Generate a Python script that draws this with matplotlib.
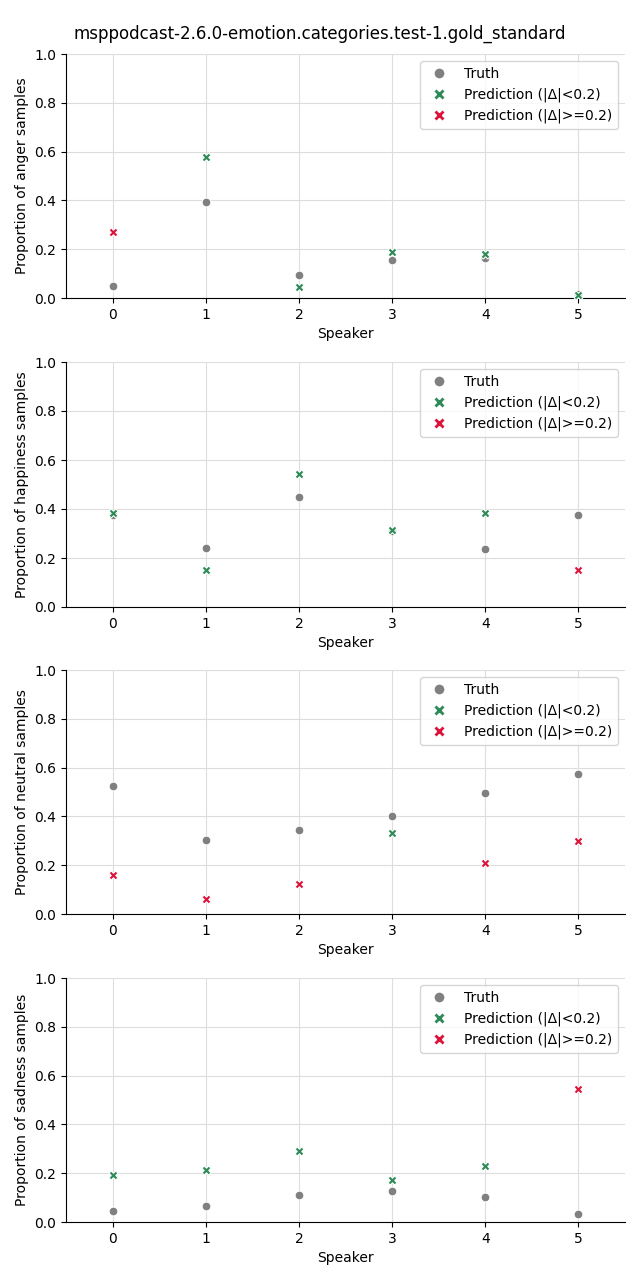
import matplotlib
matplotlib.use("Agg")
import matplotlib.pyplot as plt
import numpy as np
from matplotlib.lines import Line2D

speakers = [0, 1, 2, 3, 4, 5]
emotions = ["anger", "happiness", "neutral", "sadness"]

truth_anger = [0.048, 0.392, 0.093, 0.154, 0.165, 0.018]
pred_anger = [0.269, 0.579, 0.046, 0.187, 0.182, 0.012]
truth_happiness = [0.377, 0.241, 0.449, 0.312, 0.237, 0.376]
pred_happiness = [0.384, 0.152, 0.544, 0.313, 0.385, 0.151]
truth_neutral = [0.526, 0.305, 0.346, 0.403, 0.497, 0.575]
pred_neutral = [0.159, 0.060, 0.121, 0.331, 0.208, 0.301]
truth_sadness = [0.044, 0.064, 0.109, 0.129, 0.101, 0.031]
pred_sadness = [0.193, 0.215, 0.293, 0.173, 0.230, 0.546]

truths = [truth_anger, truth_happiness, truth_neutral, truth_sadness]
preds = [pred_anger, pred_happiness, pred_neutral, pred_sadness]

title = "msppodcast-2.6.0-emotion.categories.test-1.gold_standard"
threshold = 0.2

GRAY = "#808080"
GREEN = "#2e8b57"
RED = "#dc143c"

W, H = 640, 1280
fig = plt.figure(figsize=(W / 100, H / 100), dpi=100)

panel_px = [(54, 298), (362, 607), (670, 914), (978, 1222)]
left_px, right_px = 66, 625

for i, (emo, t, p) in enumerate(zip(emotions, truths, preds)):
    top, bot = panel_px[i]
    ax = fig.add_axes([left_px / W, 1 - bot / H, (right_px - left_px) / W, (bot - top) / H])
    t = np.array(t)
    p = np.array(p)
    x = np.array(speakers)
    ok = np.abs(p - t) < threshold
    ax.scatter(x, t, s=40, marker="o", color=GRAY, edgecolor="white", linewidth=0.75, zorder=3)
    ax.scatter(x[ok], p[ok], s=42, marker="X", color=GREEN, edgecolor="white", linewidth=0.75, zorder=4)
    ax.scatter(x[~ok], p[~ok], s=42, marker="X", color=RED, edgecolor="white", linewidth=0.75, zorder=4)
    ax.set_xlim(-0.5, 5.5)
    ax.set_ylim(0, 1)
    ax.set_xticks(speakers)
    ax.set_yticks(np.arange(0, 1.01, 0.2))
    ax.grid(True, color="#dddddd", linewidth=0.8, zorder=0)
    ax.set_axisbelow(True)
    ax.spines["top"].set_visible(False)
    ax.spines["right"].set_visible(False)
    ax.set_xlabel("Speaker")
    ax.set_ylabel(f"Proportion of {emo} samples")
    handles = [
        Line2D([], [], marker="o", linestyle="", color=GRAY, markeredgecolor="white", markersize=8),
        Line2D([], [], marker="X", linestyle="", color=GREEN, markeredgecolor="white", markersize=8),
        Line2D([], [], marker="X", linestyle="", color=RED, markeredgecolor="white", markersize=8),
    ]
    ax.legend(handles, ["Truth", "Prediction (|Δ|<0.2)", "Prediction (|Δ|>=0.2)"], loc="upper right")

fig.suptitle(title, x=0.5, y=1 - 34 / H, va="center", fontsize=12)
fig.savefig("out.png", dpi=100)
